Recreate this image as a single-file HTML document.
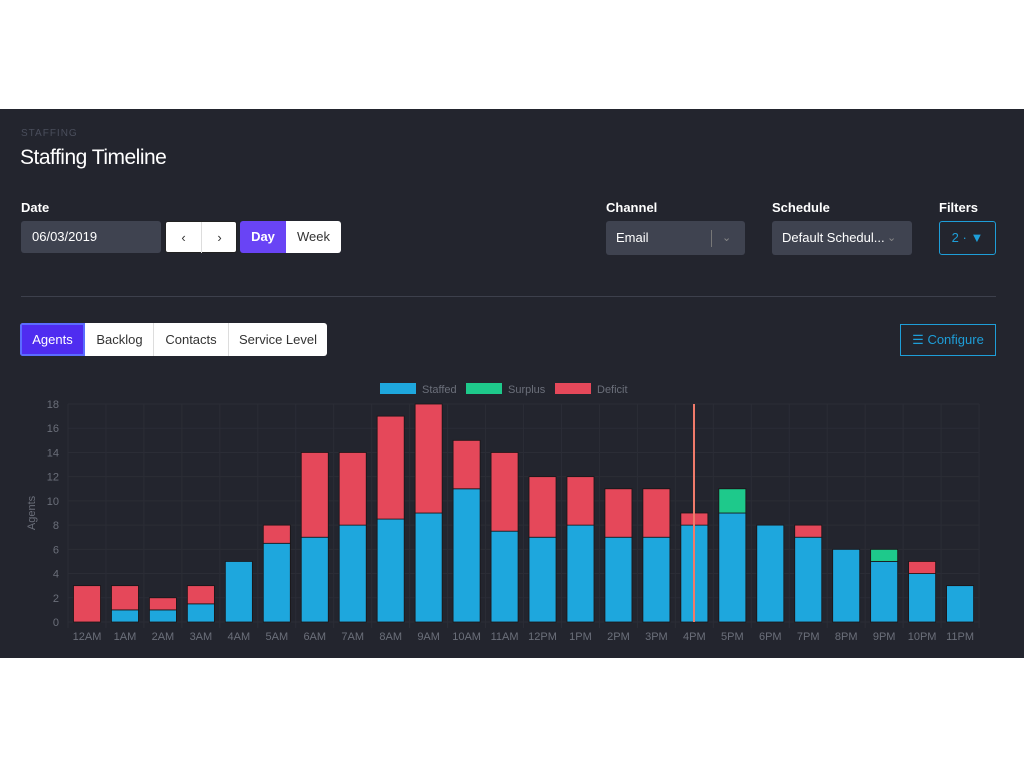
<!DOCTYPE html>
<html><head><meta charset="utf-8"><style>
body{margin:0;width:1024px;height:768px;background:#fff;font-family:"Liberation Sans",sans-serif;position:relative;overflow:hidden}
.panel{position:absolute;left:0;top:109px;width:1024px;height:549px;background:#23252e}
.a{position:absolute;white-space:nowrap}
.lbl{color:#fff;font-weight:bold;font-size:13px}
.inp{background:#3f4350;border-radius:3px;color:#fff;font-size:13px}
.wbtn{background:#fff;color:#333;font-size:13px;text-align:center;border-radius:3px}
</style></head><body>
<div class="panel"></div>
<div class="a" style="left:21px;top:128px;font-size:10px;color:#4a4e5c;letter-spacing:1px">STAFFING</div>
<div class="a" style="left:20px;top:146px;font-size:21px;color:#fff;letter-spacing:-0.5px">Staffing Timeline</div>
<div class="a lbl" style="left:21px;top:200px">Date</div>
<div class="a inp" style="left:21px;top:221px;width:140px;height:32px;line-height:32px;padding-left:11px;box-sizing:border-box">06/03/2019</div>
<div class="a wbtn" style="left:165px;top:221px;width:72px;height:32px;line-height:31px;border:1px solid #222;box-sizing:border-box"><span style="display:inline-block;width:35px;border-right:1px solid #ddd">&#8249;</span><span style="display:inline-block;width:35px">&#8250;</span></div>
<div class="a" style="left:240px;top:221px;width:101px;height:32px;border-radius:3px;overflow:hidden;font-size:13px">
<div class="a" style="left:0;top:0;width:46px;height:32px;line-height:32px;background:#6944f5;color:#fff;text-align:center;font-weight:bold">Day</div>
<div class="a" style="left:46px;top:0;width:55px;height:32px;line-height:32px;background:#fff;color:#333;text-align:center">Week</div></div>
<div class="a lbl" style="left:606px;top:200px">Channel</div>
<div class="a inp" style="left:606px;top:221px;width:139px;height:34px;line-height:34px;padding-left:10px;box-sizing:border-box">Email<span class="a" style="left:105px;top:9px;height:17px;border-left:1px solid #777"></span><span class="a" style="left:116px;top:0;color:#888;font-size:11px">&#8964;</span></div>
<div class="a lbl" style="left:772px;top:200px">Schedule</div>
<div class="a inp" style="left:772px;top:221px;width:140px;height:34px;line-height:34px;padding-left:10px;box-sizing:border-box">Default Schedul...<span class="a" style="left:115px;top:0;color:#888;font-size:11px">&#8964;</span></div>
<div class="a lbl" style="left:939px;top:200px">Filters</div>
<div class="a" style="left:939px;top:221px;width:57px;height:34px;border:1px solid #1e9ed8;border-radius:3px;box-sizing:border-box;color:#1e9ed8;font-size:13px;text-align:center;line-height:32px">2 · <b>&#9660;</b></div>
<div class="a" style="left:21px;top:296px;width:975px;height:1px;background:#3d404c"></div>
<div class="a" style="left:20px;top:323px;width:307px;height:33px;background:#fff;border-radius:3px;overflow:hidden;font-size:13px;color:#333;line-height:33px">
<div class="a" style="left:0;top:0;width:65px;height:33px;background:#4f2cf0;color:#fff;text-align:center;box-shadow:inset 0 0 0 2px #5b6cff">Agents</div>
<div class="a" style="left:66px;top:0;width:67px;text-align:center;border-right:1px solid #ddd">Backlog</div>
<div class="a" style="left:134px;top:0;width:74px;text-align:center;border-right:1px solid #ddd">Contacts</div>
<div class="a" style="left:209px;top:0;width:98px;text-align:center">Service Level</div></div>
<div class="a" style="left:900px;top:324px;width:96px;height:32px;border:1px solid #1e9ed8;box-sizing:border-box;color:#1e9ed8;font-size:13px;line-height:30px;text-align:center">&#9776; Configure</div>
<svg id="c" class="a" style="left:0;top:0" width="1024" height="768"></svg>
<script>
var s='',Y=v=>622-12.11*v;
var d=[[0,0,3],[1,0,2],[1,0,1],[1.5,0,1.5],[5,0,0],[6.5,0,1.5],[7,0,7],[8,0,6],[8.5,0,8.5],[9,0,9],[11,0,4],[7.5,0,6.5],[7,0,5],[8,0,4],[7,0,4],[7,0,4],[8,0,1],[9,2,0],[8,0,0],[7,0,1],[6,0,0],[5,1,0],[4,0,1],[3,0,0]];
var L=['12AM','1AM','2AM','3AM','4AM','5AM','6AM','7AM','8AM','9AM','10AM','11AM','12PM','1PM','2PM','3PM','4PM','5PM','6PM','7PM','8PM','9PM','10PM','11PM'];
var sp=37.96,x0=68;
for(var i=0;i<=9;i++){var y=Y(i*2);s+='<line x1="68" x2="979" y1="'+y+'" y2="'+y+'" stroke="#2b2d36"/>';s+='<text x="59" y="'+(y+4)+'" text-anchor="end" font-size="11" fill="#6b6f7a">'+(i*2)+'</text>';}
for(var i=0;i<=24;i++){var x=x0+i*sp;s+='<line x1="'+x+'" x2="'+x+'" y1="404" y2="628" stroke="#2b2d36"/>';}
d.forEach(function(r,i){var c=87+i*sp,x=c-13.5,b=0;
[[r[0],'#1ea7dd'],[r[1],'#1ec98b'],[r[2],'#e5485a']].forEach(function(p){if(p[0]>0){s+='<rect x="'+x+'" y="'+Y(b+p[0])+'" width="27" height="'+(12.11*p[0])+'" fill="'+p[1]+'" stroke="#1a1416" stroke-width="0.8"/>';b+=p[0];}});
s+='<text x="'+c+'" y="640" text-anchor="middle" font-size="11" fill="#6b6f7a">'+L[i]+'</text>';});
s+='<line x1="694" x2="694" y1="404" y2="622" stroke="#f07a6a" stroke-width="2"/>';
s+='<text transform="translate(35,513) rotate(-90)" text-anchor="middle" font-size="11" fill="#6b6f7a">Agents</text>';
[[380,'#1ea7dd','Staffed'],[466,'#1ec98b','Surplus'],[555,'#e5485a','Deficit']].forEach(function(l){s+='<rect x="'+l[0]+'" y="383" width="36" height="11" fill="'+l[1]+'"/><text x="'+(l[0]+42)+'" y="393" font-size="11" fill="#6b6f7a">'+l[2]+'</text>';});
document.getElementById('c').innerHTML=s;
</script>
</body></html>
